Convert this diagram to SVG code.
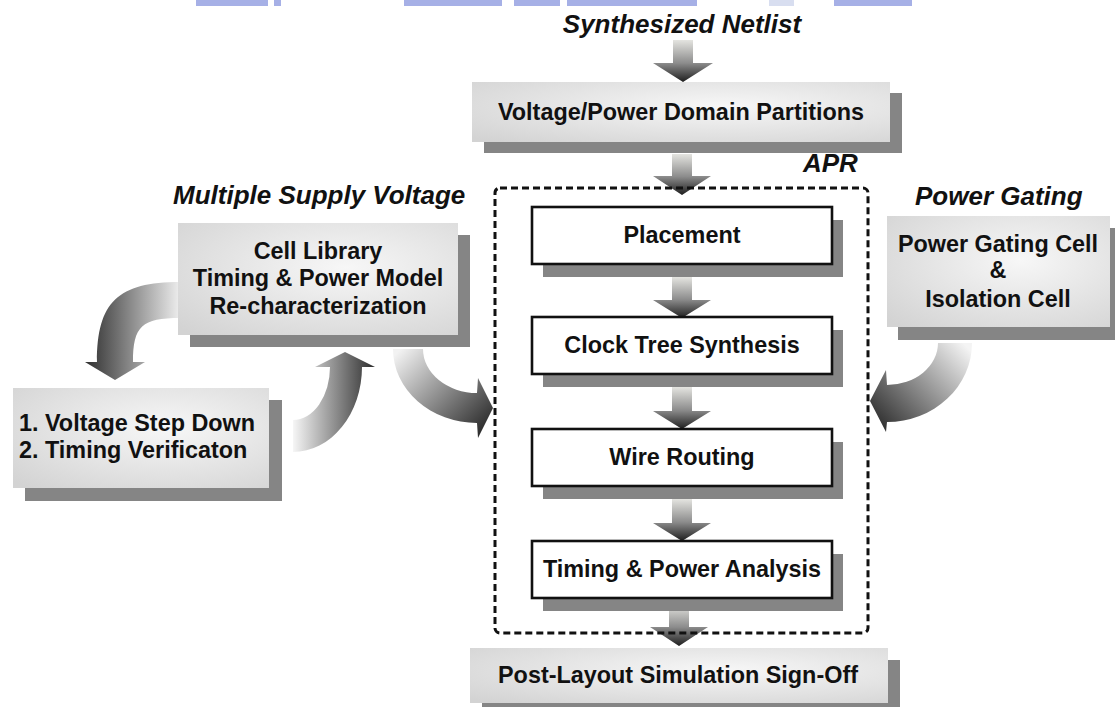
<svg xmlns="http://www.w3.org/2000/svg" width="1115" height="707" viewBox="0 0 1115 707">
  <defs>
    <linearGradient id="gDown" x1="0" y1="0" x2="0" y2="1">
      <stop offset="0" stop-color="#e4e4e0"/>
      <stop offset="0.55" stop-color="#8c8c8c"/>
      <stop offset="1" stop-color="#1e1e1e"/>
    </linearGradient>
    <radialGradient id="gPanel" cx="0.6" cy="0.4" r="0.8">
      <stop offset="0" stop-color="#f7f7f7"/>
      <stop offset="1" stop-color="#d3d3d3"/>
    </radialGradient>
    <linearGradient id="gLeft" gradientUnits="userSpaceOnUse" x1="85" y1="0" x2="180" y2="0">
      <stop offset="0" stop-color="#2e2e2e"/>
      <stop offset="1" stop-color="#eeeeee"/>
    </linearGradient>
    <linearGradient id="gUp" gradientUnits="userSpaceOnUse" x1="293" y1="0" x2="375" y2="0">
      <stop offset="0" stop-color="#f6f6f6"/>
      <stop offset="1" stop-color="#2c2c2c"/>
    </linearGradient>
    <linearGradient id="gInR" gradientUnits="userSpaceOnUse" x1="400" y1="350" x2="485" y2="435">
      <stop offset="0" stop-color="#f2f2f2"/>
      <stop offset="1" stop-color="#262626"/>
    </linearGradient>
    <linearGradient id="gInL" gradientUnits="userSpaceOnUse" x1="965" y1="345" x2="875" y2="430">
      <stop offset="0" stop-color="#f4f4f4"/>
      <stop offset="1" stop-color="#262626"/>
    </linearGradient>
  </defs>
  <style>
    .lbl{font-family:"Liberation Sans",Arial,sans-serif;font-weight:bold;font-style:italic;font-size:26px;fill:#111}
    .txt{font-family:"Liberation Sans",Arial,sans-serif;font-weight:bold;font-size:23.4px;fill:#111;text-anchor:middle}
    .panel{fill:url(#gPanel)}
    .shadow{fill:#858585}
    .step{fill:#fff;stroke:#111;stroke-width:2.6}
    .flow{fill:url(#gDown)}
    .apr{fill:none;stroke:#111;stroke-width:3;stroke-dasharray:7 4}
    .strip{fill:#a6b0e6}
  </style>

  <rect width="1115" height="707" fill="#fff"/>

  <!-- header strip -->
  <g id="header-strip">
    <rect class="strip" x="196" y="0" width="72" height="6"/>
    <rect class="strip" x="274" y="0" width="7" height="6" fill="#c0c8e0"/>
    <rect class="strip" x="404" y="0" width="98" height="6"/>
    <rect class="strip" x="514" y="0" width="46" height="6"/>
    <rect class="strip" x="567" y="0" width="130" height="6"/>
    <rect class="strip" x="769" y="0" width="25" height="6" style="fill:#d8def0"/>
    <rect class="strip" x="834" y="0" width="78" height="6"/>
  </g>

  <!-- connectors -->
  <g id="connectors">
    <path d="M180 282 C118 282 97 302 97 362 L85 362 L115 380 L145 362 L133 362 C133 326 142 318 180 318 Z" fill="url(#gLeft)"/>
    <path d="M293 452 A69 85 0 0 0 362 367 L375 367 L345 352 L315 367 L330 367 A37 53 0 0 1 293 420 Z" fill="url(#gUp)"/>
    <path d="M393 349 A84 74 0 0 0 477 423 L478 438 L493 408 L478 378 L477 393 A54 44 0 0 1 423 349 Z" fill="url(#gInR)"/>
    <path d="M972 343 A85 79 0 0 1 887 422 L886 432 L870 401 L886 370 L887 385 A51 42 0 0 0 938 343 Z" fill="url(#gInL)"/>
    <path class="flow" d="M673 40 H693 V63 H713 L683 82 L653 63 H673 Z"/>
    <path class="flow" d="M672 154 H692 V176 H711 L682 195 L653 176 H672 Z"/>
    <path class="flow" d="M672 277 H692 V300 H711 L682 318 L653 300 H672 Z"/>
    <path class="flow" d="M672 387 H692 V411 H711 L682 429 L653 411 H672 Z"/>
    <path class="flow" d="M672 499 H692 V523 H711 L682 541 L653 523 H672 Z"/>
    <path class="flow" d="M669 604 H689 V627 H708 L679 646 L650 627 H669 Z"/>
  </g>

  <g id="netlist">
    <text class="lbl" x="682" y="33" text-anchor="middle">Synthesized Netlist</text>
  </g>

  <g id="partitions">
    <rect class="shadow" x="484" y="93" width="418" height="60"/>
    <rect class="panel" x="472" y="82" width="418" height="60"/>
    <text class="txt" x="681" y="120">Voltage/Power Domain Partitions</text>
  </g>

  <g id="apr">
    <rect class="apr" x="495" y="188" width="373" height="445" rx="5"/>
    <text class="lbl" x="803" y="172">APR</text>
  </g>

  <g id="placement">
    <rect class="shadow" x="543" y="220" width="300" height="57"/>
    <rect class="step" x="532" y="207" width="300" height="57"/>
    <text class="txt" x="682" y="243">Placement</text>
  </g>

  <g id="cts">
    <rect class="shadow" x="543" y="330" width="300" height="57"/>
    <rect class="step" x="532" y="317" width="300" height="57"/>
    <text class="txt" x="682" y="353">Clock Tree Synthesis</text>
  </g>

  <g id="routing">
    <rect class="shadow" x="543" y="442" width="300" height="57"/>
    <rect class="step" x="532" y="429" width="300" height="57"/>
    <text class="txt" x="682" y="465">Wire Routing</text>
  </g>

  <g id="analysis">
    <rect class="shadow" x="543" y="554" width="300" height="57"/>
    <rect class="step" x="532" y="541" width="300" height="57"/>
    <text class="txt" x="682" y="577">Timing &amp; Power Analysis</text>
  </g>

  <g id="signoff">
    <rect class="shadow" x="482" y="660" width="418" height="55"/>
    <rect class="panel" x="470" y="648" width="418" height="55"/>
    <text class="txt" x="678" y="683">Post-Layout Simulation Sign-Off</text>
  </g>

  <g id="msv">
    <text class="lbl" x="173" y="204">Multiple Supply Voltage</text>
    <rect class="shadow" x="190" y="235" width="280" height="112"/>
    <rect class="panel" x="178" y="223" width="280" height="112"/>
    <text class="txt" x="318" y="259">Cell Library</text>
    <text class="txt" x="318" y="286">Timing &amp; Power Model</text>
    <text class="txt" x="318" y="314">Re-characterization</text>
  </g>

  <g id="stepdown">
    <rect class="shadow" x="25" y="400" width="257" height="101"/>
    <rect class="panel" x="13" y="388" width="256" height="100"/>
    <text class="txt" x="19" y="431" text-anchor="start" style="text-anchor:start">1. Voltage Step Down</text>
    <text class="txt" x="19" y="458" style="text-anchor:start">2. Timing Verificaton</text>
  </g>

  <g id="powergating">
    <text class="lbl" x="915" y="205">Power Gating</text>
    <rect class="shadow" x="898" y="228" width="223" height="112"/>
    <rect class="panel" x="887" y="216" width="223" height="111"/>
    <text class="txt" x="998" y="252">Power Gating Cell</text>
    <text class="txt" x="998" y="278">&amp;</text>
    <text class="txt" x="998" y="307">Isolation Cell</text>
  </g>
</svg>
